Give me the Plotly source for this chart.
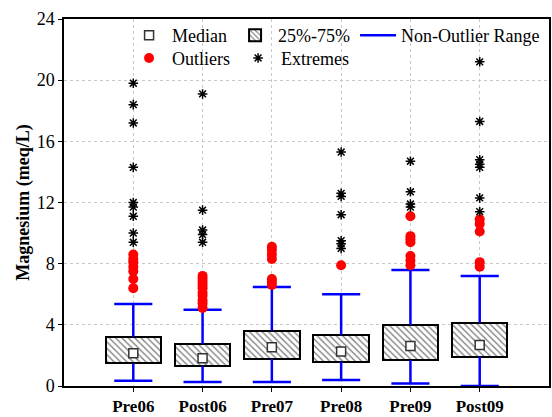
import plotly.graph_objects as go

# Box-plot summary of magnesium concentration by sampling period
categories = ["Pre06", "Post06", "Pre07", "Pre08", "Pre09", "Post09"]
q1 = [1.48, 1.31, 1.77, 1.59, 1.70, 1.92]
median = [2.14, 1.81, 2.53, 2.25, 2.62, 2.68]
q3 = [3.22, 2.75, 3.62, 3.34, 3.99, 4.14]
whisker_low = [0.35, 0.26, 0.26, 0.39, 0.17, 0.0]
whisker_high = [5.36, 4.99, 6.47, 6.00, 7.59, 7.19]

outliers = [
    [8.6, 8.3, 8.1, 7.8, 7.5, 7.0, 6.4],
    [7.2, 7.0, 6.8, 6.6, 6.4, 6.1, 5.9, 5.6, 5.4, 5.1],
    [9.1, 8.9, 8.6, 8.3, 7.0, 6.8, 6.6],
    [7.9],
    [11.1, 9.8, 9.6, 9.4, 8.5, 8.2, 7.9],
    [10.9, 10.6, 10.1, 8.1, 7.8],
]
extremes = [
    [19.8, 18.4, 17.2, 14.3, 12.0, 11.7, 11.1, 10.0, 9.4],
    [19.1, 11.5, 10.2, 9.9, 9.4],
    [],
    [15.3, 12.6, 12.4, 11.2, 9.5, 9.3, 9.0],
    [14.7, 12.7, 11.9, 11.7],
    [21.2, 17.3, 14.8, 14.5, 14.3, 12.3, 11.4],
]

xpos = list(range(len(categories)))
BOX_W = 0.8
CAP_HALF = 0.275
SERIF = "Times New Roman, Liberation Serif, serif"

fig = go.Figure()

# interquartile boxes, hatched
fig.add_trace(go.Bar(
    x=xpos, base=q1, y=[b - a for a, b in zip(q1, q3)], width=BOX_W,
    name="25%-75%", legend="legend", legendrank=2,
    marker=dict(color="white", line=dict(color="black", width=2),
                pattern=dict(shape="\\", fgcolor="black", bgcolor="white",
                             size=4.5, solidity=0.3)),
    hoverinfo="skip",
))

# whiskers with caps
wx, wy = [], []
for i, x in enumerate(xpos):
    wx += [x, x, None, x, x, None,
           x - CAP_HALF, x + CAP_HALF, None, x - CAP_HALF, x + CAP_HALF, None]
    wy += [q3[i], whisker_high[i], None, q1[i], whisker_low[i], None,
           whisker_high[i], whisker_high[i], None, whisker_low[i], whisker_low[i], None]
fig.add_trace(go.Scatter(
    x=wx, y=wy, mode="lines", name="Non-Outlier Range",
    legend="legend", legendrank=3,
    line=dict(color="#0000ff", width=2.5), hoverinfo="skip",
))

# medians
fig.add_trace(go.Scatter(
    x=xpos, y=median, mode="markers", name="Median",
    legend="legend", legendrank=1,
    marker=dict(symbol="square", size=9, color="white",
                line=dict(color="#333333", width=1.5)),
))

# outliers and extremes
ox, oy, ex, ey = [], [], [], []
for i, x in enumerate(xpos):
    ox += [x] * len(outliers[i]); oy += outliers[i]
    ex += [x] * len(extremes[i]); ey += extremes[i]
fig.add_trace(go.Scatter(
    x=ox, y=oy, mode="markers", name="Outliers", legend="legend2", legendrank=1,
    marker=dict(symbol="circle", size=10, color="#ff0000"),
))
fig.add_trace(go.Scatter(
    x=ex, y=ey, mode="markers", name="Extremes", legend="legend2", legendrank=2,
    marker=dict(symbol="asterisk-open", size=8, color="black",
                line=dict(color="black", width=1.5)),
))

legend_common = dict(orientation="h", bgcolor="rgba(0,0,0,0)",
                     font=dict(family=SERIF, size=18, color="black"),
                     itemwidth=36,
                     xanchor="left", yanchor="middle", itemclick=False)
fig.update_layout(
    width=552, height=417,
    margin=dict(l=64, r=1, t=19, b=31),
    paper_bgcolor="white", plot_bgcolor="white",
    font=dict(family=SERIF, size=16, color="black"),
    bargap=0,
    legend=dict(x=0.128, y=0.955, **legend_common),
    legend2=dict(x=0.128, y=0.893, **legend_common),
    xaxis=dict(
        range=[-1, 6], tickvals=xpos, ticktext=categories,
        tickfont=dict(family=SERIF, size=17, weight="bold"),
        showline=True, linecolor="black", linewidth=1.5, mirror=True,
        ticks="outside", ticklen=4, tickcolor="black",
        showgrid=True, gridcolor="#c8c8c8", griddash="dot", gridwidth=1,
        zeroline=False,
    ),
    yaxis=dict(
        range=[0, 24], dtick=4,
        title=dict(text="Magnesium (meq/L)",
                   font=dict(family=SERIF, size=18, weight="bold"), standoff=2),
        tickfont=dict(family=SERIF, size=18),
        showline=True, linecolor="black", linewidth=1.5, mirror=True,
        ticks="outside", ticklen=4, tickcolor="black",
        showgrid=True, gridcolor="#c8c8c8", griddash="dot", gridwidth=1,
        zeroline=False,
    ),
)

fig.write_html("out.html")
